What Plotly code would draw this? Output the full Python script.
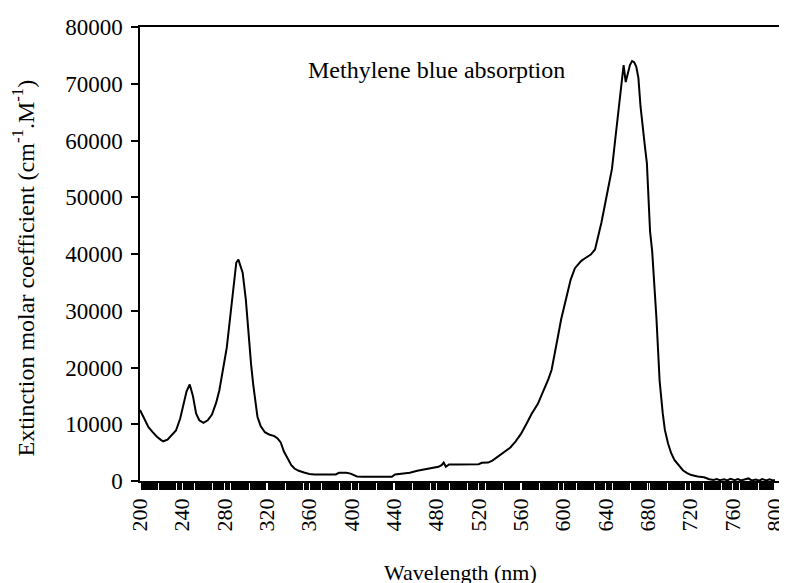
import plotly.graph_objects as go

wavelength = [200, 204, 208, 212, 216, 220, 222, 226, 230, 234, 238, 241, 244, 247, 250, 253, 256, 260,
              264, 268, 272, 275, 278, 282, 285, 288, 291, 293, 295, 297, 300, 302, 305, 307, 309, 311,
              314, 318, 322, 327, 330, 333, 336, 340, 343, 346, 350, 355, 360, 365, 375, 385, 388, 395,
              399, 402, 405, 410, 420, 430, 438, 441, 450, 455, 462, 470, 476, 482, 485, 487, 489, 492,
              500, 510, 520, 523, 529, 533, 536, 540, 544, 550, 555, 560, 565, 570, 576, 582, 586, 589,
              592, 595, 598, 601, 604, 607, 611, 617, 621, 626, 630, 633, 636, 640, 643, 646, 649, 651,
              653, 655, 657, 659, 661, 663, 665, 667, 669, 671, 673, 675, 677, 679, 680, 682, 684, 686,
              688, 690, 691, 694, 696, 699, 702, 705, 709, 713, 717, 721, 727, 733, 738, 742, 745, 748,
              752, 755, 758, 762, 765, 768, 772, 775, 778, 782, 785, 788, 792, 795, 798, 800]
extinction = [12500, 11000, 9500, 8600, 7800, 7200, 7000, 7300, 8200, 8900, 11000, 13600, 15800, 17000, 15000,
              11900, 10700, 10250, 10700, 11700, 13800, 16000, 19000, 23500, 28500, 34000, 38500, 39000,
              38000, 36700, 32000, 27000, 20500, 17000, 13800, 11300, 9700, 8600, 8200, 7900, 7500, 6800,
              5200, 3700, 2800, 2200, 1800, 1500, 1250, 1150, 1150, 1150, 1450, 1450, 1300, 1000, 800, 750,
              750, 750, 750, 1150, 1300, 1450, 1800, 2100, 2300, 2500, 2800, 3250, 2500, 2900, 2900, 2900,
              2950, 3200, 3250, 3600, 4000, 4500, 5000, 5900, 7000, 8300, 10000, 11800, 13600, 16100, 18000,
              19600, 22900, 25500, 28500, 31000, 33500, 35500, 37500, 38800, 39300, 39900, 40800, 43000,
              45500, 49300, 52000, 55000, 60000, 63500, 66800, 70000, 73300, 70300, 72000, 73300, 74000,
              73800, 73000, 71000, 66000, 62000, 59200, 56000, 51000, 44000, 40500, 35000, 28800, 21500,
              17700, 11900, 9000, 6600, 4900, 3700, 2700, 1900, 1400, 1050, 800, 650, 300, 200, 350, 150,
              300, 100, 400, 150, 350, 100, 300, 450, 100, 250, 50, 350, 100, 300, 100, 200]

x_ticks = list(range(200, 801, 40))
y_ticks = list(range(0, 80001, 10000))
minor_ticks = [v for v in range(200, 801) if v % 40 != 0]

font_family = "Liberation Serif, Times New Roman, serif"

fig = go.Figure()
fig.add_trace(go.Scatter(x=wavelength, y=extinction, mode="lines",
                         line=dict(color="black", width=2), showlegend=False))

# the page body adds an 8px offset; the figure is sized to compensate
fig.update_layout(
    width=779, height=575,
    margin=dict(l=132, r=7, t=19, b=102, autoexpand=False),
    paper_bgcolor="white", plot_bgcolor="white",
    font=dict(family=font_family, size=22, color="black"),
    xaxis=dict(range=[200, 804.8], tickmode="array", tickvals=x_ticks,
               ticktext=[str(v) for v in x_ticks], tickangle=-90, automargin=False,
               ticklabeloverflow="allow",
               ticks="outside", ticklen=7, tickwidth=1, tickcolor="white",
               minor=dict(tickmode="array", tickvals=minor_ticks, ticks="outside",
                          ticklen=7, tickwidth=1.2, tickcolor="black", showgrid=False),
               showline=True, linecolor="black", linewidth=1.5, mirror=True,
               showgrid=False, zeroline=False, tickfont=dict(size=22)),
    yaxis=dict(range=[0, 80000], tickmode="array", tickvals=y_ticks,
               ticktext=[str(v) for v in y_ticks], automargin=False,
               ticklabelstandoff=4,
               ticks="outside", ticklen=7, tickwidth=1.5, tickcolor="black",
               showline=True, linecolor="black", linewidth=1.5, mirror=True,
               showgrid=False, zeroline=False, tickfont=dict(size=23)),
    annotations=[
        dict(text="Methylene blue absorption", xref="paper", yref="paper",
             x=0.464, y=0.905, xanchor="center", yanchor="middle", showarrow=False,
             font=dict(size=24)),
        dict(text="Wavelength (nm)", xref="paper", yref="paper",
             x=0.5, y=0, xanchor="center", yanchor="middle", yshift=-91, showarrow=False,
             font=dict(size=22)),
        dict(text="Extinction molar coefficient (cm<sup>-1</sup>.M<sup>-1</sup>)", xref="paper", yref="paper",
             x=0, y=0.468, xanchor="center", yanchor="middle", xshift=-117, textangle=-90,
             showarrow=False, font=dict(size=24)),
    ],
)

fig.write_html("out.html")
